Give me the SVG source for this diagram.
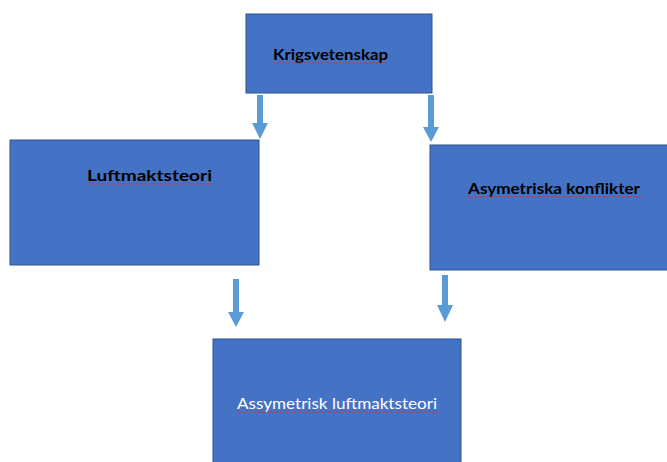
<svg xmlns="http://www.w3.org/2000/svg" width="667" height="462" viewBox="0 0 667 462">
<style>
.box{fill:#4472C4;stroke:#2F528F;stroke-width:1}
.lbl{font-family:Lato,"Open Sans","Liberation Sans",sans-serif;font-size:16px;font-weight:bold;fill:#000}
.lblw{font-family:Lato,"Open Sans","Liberation Sans",sans-serif;font-size:16px;fill:#fff}
.arrow{fill:#5B9BD5}
.sq{stroke:#E03030;stroke-width:1;stroke-dasharray:2 1;fill:none}
</style>
<rect width="667" height="462" fill="#fff"/>
<g id="connectors">
<polygon class="arrow" points="257,95 263,95 263,123 268,123 260,139 252,123 257,123"/>
<polygon class="arrow" points="428,95 434,95 434,127 439,127 431,142 423,127 428,127"/>
<polygon class="arrow" points="233,279 239,279 239,312 244,312 236,327 228,312 233,312"/>
<polygon class="arrow" points="442,275 448,275 448,305 453,305 445,322 437,305 442,305"/>
</g>
<g id="krigsvetenskap">
<rect class="box" x="246" y="14" width="186" height="79"/>
<text class="lbl" x="273" y="60" textLength="115" lengthAdjust="spacingAndGlyphs">Krigsvetenskap</text>
<line class="sq" x1="273" y1="63" x2="388" y2="63"/>
</g>
<g id="luftmaktsteori">
<rect class="box" x="10" y="140" width="249" height="125"/>
<text class="lbl" x="87" y="181" textLength="125" lengthAdjust="spacingAndGlyphs">Luftmaktsteori</text>
<line class="sq" x1="87" y1="184" x2="212" y2="184"/>
</g>
<g id="asymetriska">
<rect class="box" x="430" y="145" width="240" height="125"/>
<text class="lbl" x="468" y="194" textLength="172" lengthAdjust="spacingAndGlyphs">Asymetriska konflikter</text>
<line class="sq" x1="468" y1="197" x2="641" y2="197"/>
</g>
<g id="assymetrisk">
<rect class="box" x="213" y="339" width="248" height="130"/>
<text class="lblw" x="237" y="409" textLength="200" lengthAdjust="spacingAndGlyphs">Assymetrisk luftmaktsteori</text>
<line class="sq" x1="237" y1="412" x2="437" y2="412"/>
</g>
</svg>
